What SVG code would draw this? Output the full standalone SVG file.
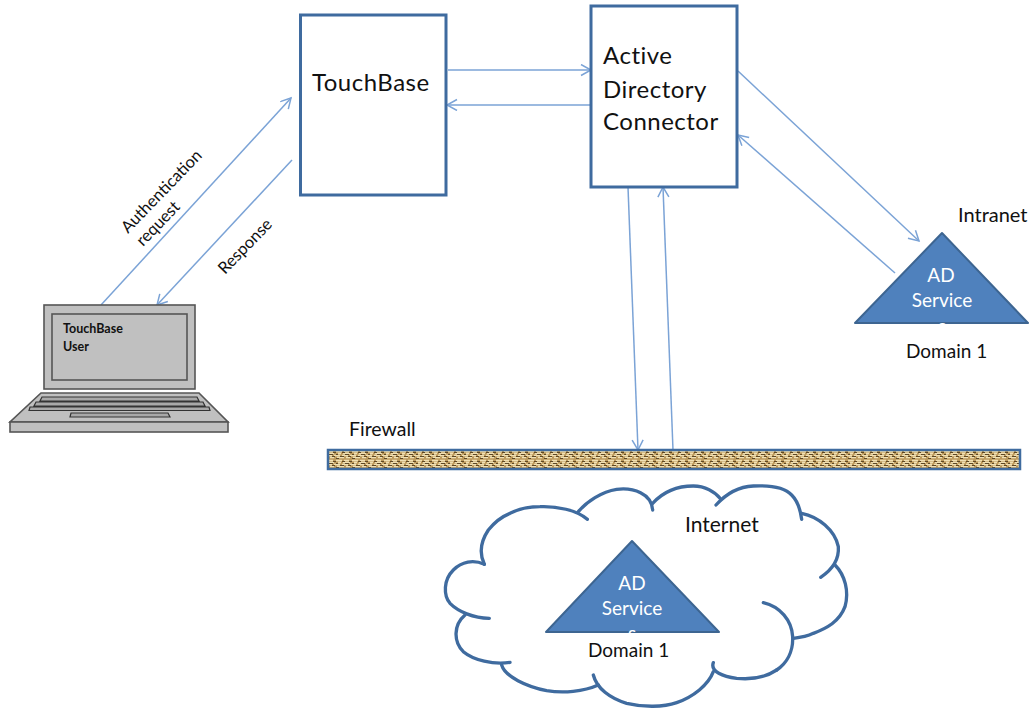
<svg xmlns="http://www.w3.org/2000/svg" width="1031" height="708" viewBox="0 0 1031 708">
<style>
text{font-family:"Lato","Open Sans","Liberation Sans",sans-serif;fill:#111}
.box{fill:#fff;stroke:#3f6b9f;stroke-width:3}
.big{font-size:24px;letter-spacing:.5px}
.mid{font-size:16.500px}
.lab{font-size:19px}
.wh{font-size:19px;fill:#fff;text-anchor:middle}
.tri{fill:#4f81bd;stroke:#3d6591;stroke-width:2;stroke-linejoin:round}
.lap{fill:#c0c0c0;stroke:#555;stroke-width:1.6}
.key{fill:#a8a8a8;stroke:#333;stroke-width:1.2}
.con{fill:none;stroke:#7ba3d6;stroke-width:1.500;marker-end:url(#a)}
.cl{fill:none;stroke:#3f6b9f;stroke-width:10;stroke-linecap:round}
</style>
<defs>
<marker id="a" markerUnits="userSpaceOnUse" markerWidth="14" markerHeight="14" refX="11" refY="6" orient="auto">
<path d="M1 .5 11 6 1 11.500" fill="none" stroke="#7ba3d6" stroke-width="1.500"/>
</marker>
<pattern id="tex" width="16" height="9" patternUnits="userSpaceOnUse">
<rect width="16" height="9" fill="#bd9a5c"/>
<path d="M0 1.500h6M8 1.500h5M2 3.500h3M7 3.500h7M0 5.500h4M6 5.500h6M14 5.500h2M1 7.500h7M10 7.500h4" stroke="#f0e0b4" stroke-width="1.300"/>
<path d="M6 2.500h3M13 2.500h3M0 4.500h2M9 4.500h4M4 6.500h4M12 6.500h3M0 8.500h3" stroke="#5e4825" stroke-width="1"/>
</pattern>
</defs>
<g id="connectors">
<path class="con" d="M101 305 291 98"/>
<path class="con" d="M292 160 157 305"/>
<path class="con" d="M448 70H591"/>
<path class="con" d="M591 105H447"/>
<path class="con" d="M738 71 919 241"/>
<path class="con" d="M895 273 738 135"/>
<path class="con" d="M628 187 638 450"/>
<path class="con" d="M673 450 663 187"/>
</g>
<g id="touchbase"><rect class="box" x="300.500" y="15" width="145.500" height="180"/>
<text class="big" x="312" y="91">TouchBase</text></g>
<g id="ad-connector"><rect class="box" x="591" y="6" width="146" height="181"/>
<text class="big" x="603" y="64">Active</text><text class="big" x="603" y="98">Directory</text><text class="big" x="603" y="130">Connector</text></g>
<g id="laptop">
<rect class="lap" x="44" y="305" width="151" height="84"/>
<rect class="lap" x="52" y="314" width="135" height="66"/>
<path class="lap" d="M41 393H199L228 422H10Z"/>
<rect class="lap" x="10" y="422" width="218" height="10"/>
<path class="key" d="M42 397H197L199 401H40ZM36 402H203L205 406H34ZM30 407H209L210 410.500H29ZM71 413H168L170 417H70Z"/>
<text x="63" y="333" style="font-size:12.500px;font-weight:700">TouchBase</text>
<text x="63" y="351" style="font-size:12.500px;font-weight:700">User</text>
</g>
<g id="labels-left">
<text class="mid" transform="translate(128 234) rotate(-46)">Authentication</text>
<text class="mid" transform="translate(143 247) rotate(-46)">request</text>
<text class="mid" transform="translate(225 275) rotate(-46)">Response</text>
</g>
<g id="ad-intranet">
<text class="lab" x="958" y="222" style="font-size:20px">Intranet</text>
<path class="tri" d="M942 233 1028 323H855Z"/>
<text class="wh" x="941" y="282">AD</text><text class="wh" x="942" y="307">Service</text><text class="wh" x="942" y="333">s</text>
<text class="lab" x="906" y="358">Domain 1</text>
</g>
<g id="firewall">
<text class="lab" x="349" y="436" style="font-size:19.500px">Firewall</text>
<rect x="328" y="450" width="692" height="19" fill="url(#tex)" stroke="#3f6b9f" stroke-width="2.500"/>
</g>
<g id="internet">
<g transform="translate(430 480) scale(.33333)">
<path class="cl" d="M178 415C130 414 85 395 60 370C40 345 40 300 70 270C95 245 130 238 163 253"/>
<path class="cl" d="M163 253C145 215 155 180 175 150C195 125 215 110 240 100C270 85 300 80 330 80C380 78 440 90 472 118"/>
<path class="cl" d="M445 95C470 65 515 35 560 28C610 22 665 40 668 90"/>
<path class="cl" d="M668 70C700 35 745 18 790 18C825 18 855 35 870 55"/>
<path class="cl" d="M858 75C885 45 925 20 970 18C1010 16 1060 18 1085 45C1105 65 1112 95 1115 118"/>
<path class="cl" d="M1115 100C1165 110 1215 150 1225 200C1228 240 1205 270 1172 292"/>
<path class="cl" d="M1215 255C1245 285 1258 335 1245 380C1228 425 1190 445 1150 460C1130 470 1110 473 1090 475"/>
<path class="cl" d="M1000 368C1050 380 1085 420 1088 470C1090 515 1070 550 1040 570"/>
<path class="cl" d="M850 548C840 575 880 590 920 595C970 600 1010 590 1040 570"/>
<path class="cl" d="M850 575C835 615 790 650 740 668C700 682 640 682 590 670C540 655 500 625 490 585"/>
<path class="cl" d="M505 615C460 635 400 640 350 632C290 620 225 590 215 555"/>
<path class="cl" d="M240 547C190 555 130 540 100 515C70 485 70 435 105 405"/>
</g>
<path class="tri" d="M632 541 719 632H546Z"/>
<text class="wh" x="632" y="590">AD</text><text class="wh" x="632" y="615">Service</text><text class="wh" x="632" y="640">s</text>
<text class="lab" x="588" y="657">Domain 1</text>
<text class="lab" x="685" y="532" style="font-size:21px">Internet</text>
</g>
</svg>
